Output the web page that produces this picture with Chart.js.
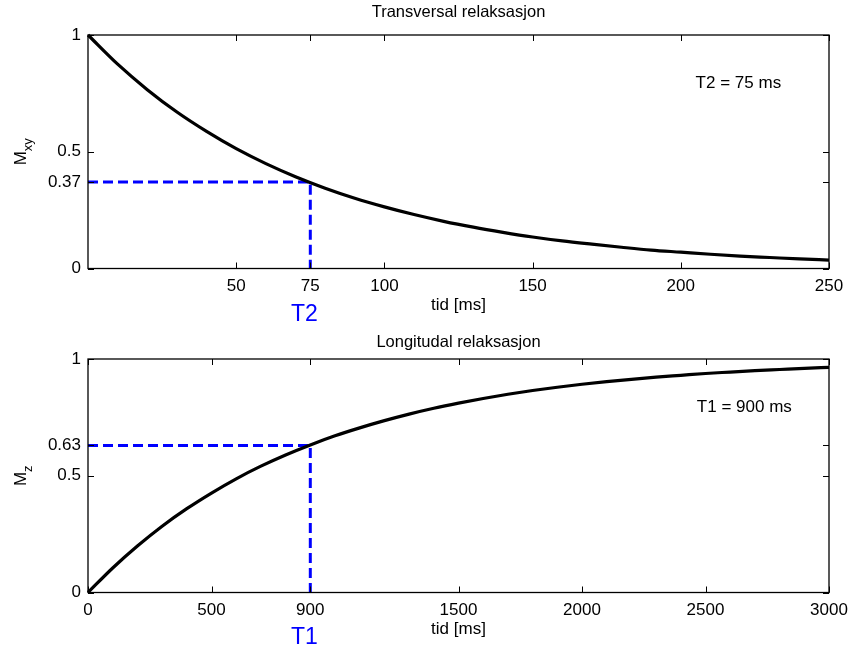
<!DOCTYPE html>
<html>
<head>
<meta charset="utf-8">
<script src="https://cdn.jsdelivr.net/npm/chart.js@4.4.1/dist/chart.umd.min.js"></script>
<style>
  html, body { margin: 0; padding: 0; background: #fff; }
  .wrap { position: absolute; left: 0; width: 853px; height: 324px; }
  #w1 { top: 0; }
  #w2 { top: 324px; }
</style>
</head>
<body>
<div class="wrap" id="w1"><canvas id="c1" width="853" height="324"></canvas></div>
<div class="wrap" id="w2"><canvas id="c2" width="853" height="324"></canvas></div>
<script>
// ---- Data ----
const tTop = [0,10,20,30,40,50,60,70,80,90,100,110,120,130,140,150,160,170,180,190,200,210,220,230,240,250];
const mxy  = [1.000,0.875,0.766,0.670,0.587,0.513,0.449,0.393,0.344,0.301,0.264,0.231,0.202,0.177,0.155,0.135,0.118,0.104,0.091,0.079,0.070,0.061,0.053,0.047,0.041,0.036];

const tBottom = [0,100,200,300,400,500,600,700,800,900,1000,1100,1200,1300,1400,1500,1600,1700,1800,1900,2000,2100,2200,2300,2400,2500,2600,2700,2800,2900,3000];
const mz      = [0.000,0.105,0.199,0.284,0.359,0.426,0.487,0.541,0.589,0.632,0.671,0.705,0.736,0.764,0.789,0.811,0.831,0.849,0.865,0.879,0.892,0.903,0.913,0.922,0.930,0.938,0.944,0.950,0.955,0.960,0.964];

const T2 = 75, T2level = 0.37;
const T1 = 900, T1level = 0.63;

const xTicksTop = [50, 75, 100, 150, 200, 250];
const yTicksTop = [0, 0.37, 0.5, 1];
const xTicksBottom = [0, 500, 900, 1500, 2000, 2500, 3000];
const yTicksBottom = [0, 0.5, 0.63, 1];

const titleTop = 'Transversal relaksasjon';
const titleBottom = 'Longitudal relaksasjon';
const xLabel = 'tid [ms]';
const annTop = 'T2 = 75 ms';
const annBottom = 'T1 = 900 ms';

// ---- Styling / helpers ----
const FONT = '"Liberation Sans", Arial, Helvetica, sans-serif';
const BLUE = '#0000ff';

function pts(xs, ys) { return xs.map((x, i) => ({ x: x, y: ys[i] })); }

const decor = {
  id: 'decor',
  afterDraw(chart, args, o) {
    const { ctx, chartArea: a, scales } = chart;
    const x = scales.x, y = scales.y;
    ctx.save();
    // box
    ctx.strokeStyle = '#000';
    ctx.lineWidth = 1.3;
    ctx.strokeRect(a.left, a.top, a.right - a.left, a.bottom - a.top);
    // inward ticks on all sides
    const tl = 6;
    ctx.lineWidth = 1;
    ctx.beginPath();
    o.xTicks.forEach(v => {
      const px = Math.round(x.getPixelForValue(v)) + 0.5;
      ctx.moveTo(px, a.bottom); ctx.lineTo(px, a.bottom - tl);
      ctx.moveTo(px, a.top); ctx.lineTo(px, a.top + tl);
    });
    o.yTicks.forEach(v => {
      const py = Math.round(y.getPixelForValue(v)) + 0.5;
      ctx.moveTo(a.left, py); ctx.lineTo(a.left + tl, py);
      ctx.moveTo(a.right, py); ctx.lineTo(a.right - tl, py);
    });
    ctx.stroke();

    ctx.fillStyle = '#000';
    // title
    ctx.font = '16.5px ' + FONT;
    ctx.textAlign = 'center';
    ctx.textBaseline = 'middle';
    ctx.fillText(o.title, (a.left + a.right) / 2, o.titleY);
    // x label
    ctx.font = '17px ' + FONT;
    ctx.fillText(o.xlabel, (a.left + a.right) / 2, o.xlabelY);
    // annotation
    ctx.font = '17px ' + FONT;
    ctx.textAlign = 'left';
    ctx.fillText(o.ann, x.getPixelForValue(o.annX), y.getPixelForValue(o.annY));
    // marker label (T2 / T1)
    ctx.fillStyle = BLUE;
    ctx.font = '23px ' + FONT;
    ctx.textAlign = 'center';
    ctx.fillText(o.mark, x.getPixelForValue(o.markX) - 6, o.markY);
    // y label with subscript, rotated
    ctx.fillStyle = '#000';
    ctx.translate(26, (a.top + a.bottom) / 2);
    ctx.rotate(-Math.PI / 2);
    ctx.textAlign = 'left';
    ctx.textBaseline = 'alphabetic';
    ctx.font = '17px ' + FONT;
    const wM = ctx.measureText(o.ylabel).width;
    ctx.font = '13px ' + FONT;
    const wS = ctx.measureText(o.ysub).width;
    const start = -(wM + wS) / 2;
    ctx.font = '17px ' + FONT;
    ctx.fillText(o.ylabel, start, 0);
    ctx.font = '13px ' + FONT;
    ctx.fillText(o.ysub, start + wM, 6);
    ctx.restore();
  }
};

function makeChart(id, curveX, curveY, tVal, level, xmax, xTicks, yTicks, opts) {
  return new Chart(document.getElementById(id), {
    type: 'line',
    data: {
      datasets: [
        {
          data: pts(curveX, curveY),
          borderColor: '#000',
          borderWidth: 3.2,
          pointRadius: 0,
          cubicInterpolationMode: 'monotone',
          fill: false,
          clip: 4,
          order: 0
        },
        {
          data: [{ x: 0, y: level }, { x: tVal, y: level }, { x: tVal, y: 0 }],
          borderColor: BLUE,
          borderWidth: 3,
          borderDash: [10, 5],
          pointRadius: 0,
          tension: 0,
          fill: false,
          clip: 4,
          order: 1
        }
      ]
    },
    options: {
      responsive: false,
      animation: false,
      devicePixelRatio: 1,
      events: [],
      layout: { padding: { top: 35, right: 24, left: 0, bottom: 0 } },
      plugins: {
        legend: { display: false },
        tooltip: { enabled: false },
        title: { display: false },
        decor: Object.assign({ xTicks: xTicks, yTicks: yTicks }, opts)
      },
      scales: {
        x: {
          type: 'linear',
          min: 0,
          max: xmax,
          grid: { display: false, drawTicks: false },
          border: { display: false },
          afterBuildTicks: s => { s.ticks = xTicks.map(v => ({ value: v })); },
          afterFit: s => { s.height = 55.5; s.paddingLeft = 0; s.paddingRight = 0; },
          ticks: {
            autoSkip: false,
            maxRotation: 0,
            padding: 8,
            color: '#000',
            font: { family: FONT, size: 17 },
            callback: v => String(v)
          }
        },
        y: {
          type: 'linear',
          min: 0,
          max: 1,
          grid: { display: false, drawTicks: false },
          border: { display: false },
          afterBuildTicks: s => { s.ticks = yTicks.map(v => ({ value: v })); },
          afterFit: s => { s.width = 88; s.paddingTop = 0; s.paddingBottom = 0; },
          ticks: {
            autoSkip: false,
            padding: 7,
            color: '#000',
            font: { family: FONT, size: 17 },
            callback: v => String(v)
          }
        }
      }
    },
    plugins: [decor]
  });
}

makeChart('c1', tTop, mxy, T2, T2level, 250, xTicksTop, yTicksTop, {
  title: titleTop, titleY: 12, xlabel: xLabel, xlabelY: 305,
  ann: annTop, annX: 205, annY: 0.795,
  mark: 'T2', markX: T2, markY: 315,
  ylabel: 'M', ysub: 'xy'
});
makeChart('c2', tBottom, mz, T1, T1level, 3000, xTicksBottom, yTicksBottom, {
  title: titleBottom, titleY: 18, xlabel: xLabel, xlabelY: 305,
  ann: annBottom, annX: 2465, annY: 0.795,
  mark: 'T1', markX: T1, markY: 314,
  ylabel: 'M', ysub: 'z'
});
</script>
</body>
</html>
